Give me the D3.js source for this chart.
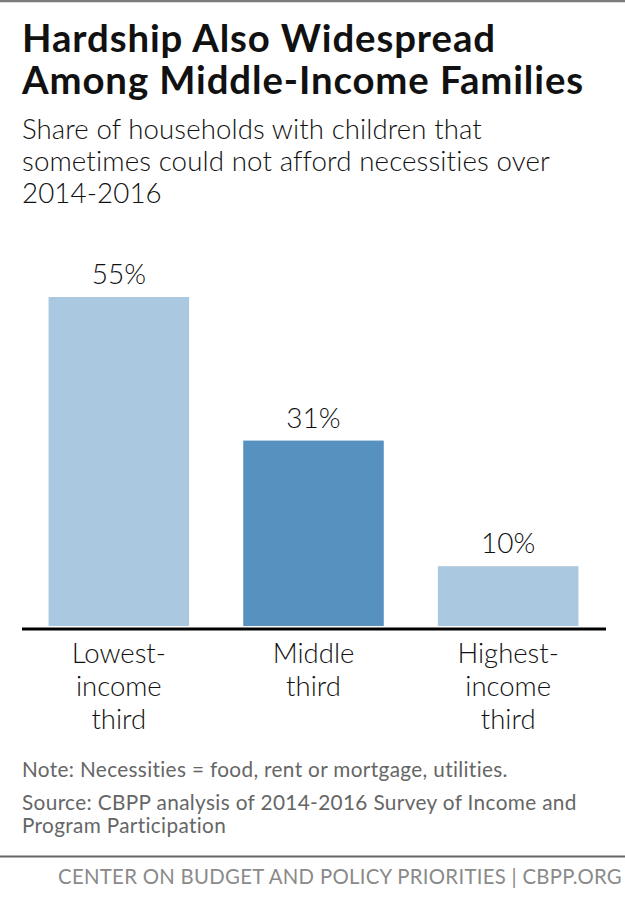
<!DOCTYPE html>
<html>
<head>
<meta charset="utf-8">
<script src="https://cdn.jsdelivr.net/npm/d3@7"></script>
<style>
  html, body { margin: 0; padding: 0; background: #fff; }
  svg { display: block; }
</style>
</head>
<body>
<svg id="chart" width="625" height="901"></svg>
<script>
// ---- data ----
const categories = ["Lowest-income third", "Middle third", "Highest-income third"];
const categoryLines = [["Lowest-", "income", "third"], ["Middle", "third"], ["Highest-", "income", "third"]];
const values = [55, 31, 10];
const valueLabels = ["55%", "31%", "10%"];
const highlight = [false, true, false];

const titleLines = ["Hardship Also Widespread", "Among Middle-Income Families"];
const subtitleLines = ["Share of households with children that", "sometimes could not afford necessities over", "2014-2016"];
const noteText = "Note: Necessities = food, rent or mortgage, utilities.";
const sourceLines = ["Source: CBPP analysis of 2014-2016 Survey of Income and", "Program Participation"];
const footerText = "CENTER ON BUDGET AND POLICY PRIORITIES | CBPP.ORG";

// ---- setup ----
const svg = d3.select("#chart");
const W = 625, H = 901;
const SANS = "Lato, 'Open Sans', sans-serif";

// fixed letter-spacing, then scale font-size so rendered width matches target
function fit(sel, target, ls) {
  const node = sel.node();
  sel.attr("letter-spacing", ls || 0);
  for (let k = 0; k < 4; k++) {
    const fs = parseFloat(sel.attr("font-size"));
    const w = node.getComputedTextLength();
    const n = sel.text().length;
    const spacing = (ls || 0) * n;
    const glyph = w - spacing;
    if (glyph > 0) sel.attr("font-size", (fs * (target - spacing) / glyph).toFixed(3));
  }
  return sel;
}

// top border
svg.append("line").attr("x1", 0).attr("x2", W).attr("y1", 1).attr("y2", 1)
  .attr("stroke", "#7a7a7a").attr("stroke-width", 2.5);

// title
const titleBase = [52, 94], titleW = [474, 562];
titleLines.forEach((t, i) => {
  const s = svg.append("text").attr("x", 22).attr("y", titleBase[i])
    .attr("font-family", SANS).attr("font-weight", 700).attr("font-size", 34)
    .attr("fill", "#111").text(t);
  fit(s, titleW[i], 0.9);
});

// subtitle
const subBase = [139, 171, 203], subW = [460, 528];
let subFs = 27;
subtitleLines.forEach((t, i) => {
  const s = svg.append("text").attr("x", 22).attr("y", subBase[i])
    .attr("font-family", SANS).attr("font-weight", 300).attr("font-size", 27)
    .attr("fill", "#111").text(t);
  if (i < 2) { fit(s, subW[i], 0.1); subFs = parseFloat(s.attr("font-size")); }
  else s.attr("font-size", subFs).attr("letter-spacing", 0.1);
});

// scales
const x = d3.scaleBand().domain(categories).range([21.5, 605.5]).paddingInner(0.278).paddingOuter(0.139);
const y = d3.scaleLinear().domain([0, 55]).range([626, 297]);

// bars
svg.append("g").selectAll("rect").data(categories).join("rect")
  .attr("x", d => x(d))
  .attr("width", x.bandwidth())
  .attr("y", (d, i) => y(values[i]))
  .attr("height", (d, i) => y(0) - y(values[i]))
  .attr("fill", (d, i) => highlight[i] ? "#5791bf" : "#aac8e0");

// value labels
svg.append("g").selectAll("text").data(categories).join("text")
  .attr("x", d => x(d) + x.bandwidth() / 2)
  .attr("y", (d, i) => y(values[i]) - 13)
  .attr("text-anchor", "middle")
  .attr("font-family", SANS).attr("font-weight", 300).attr("font-size", 28)
  .attr("fill", "#111")
  .text((d, i) => valueLabels[i]);

// axis baseline
const axis = d3.axisBottom(x).tickSize(0).tickFormat("");
const ag = svg.append("g").attr("transform", "translate(0,628.5)").call(axis);
ag.select(".domain").attr("stroke", "#000").attr("stroke-width", 3);

// category labels
categories.forEach((c, i) => {
  const t = svg.append("text").attr("text-anchor", "middle")
    .attr("font-family", SANS).attr("font-weight", 300).attr("font-size", 27.5).attr("fill", "#111");
  categoryLines[i].forEach((ln, j) => {
    t.append("tspan").attr("x", x(c) + x.bandwidth() / 2).attr("y", 663 + j * 33).text(ln);
  });
});

// note & source
const note = svg.append("text").attr("x", 22).attr("y", 777)
  .attr("font-family", SANS).attr("font-weight", 400).attr("font-size", 17)
  .attr("fill", "#666").text(noteText);
fit(note, 486, 0.35);
const srcBase = [810, 833], srcW = [555];
sourceLines.forEach((t, i) => {
  const s = svg.append("text").attr("x", 22).attr("y", srcBase[i])
    .attr("font-family", SANS).attr("font-weight", 400).attr("font-size", 17)
    .attr("fill", "#666").text(t);
  if (i === 0) fit(s, srcW[0], 0.35);
  else s.attr("font-size", note.attr("font-size")).attr("letter-spacing", 0.35);
});

// separator
svg.append("line").attr("x1", 0).attr("x2", W).attr("y1", 856.5).attr("y2", 856.5)
  .attr("stroke", "#666").attr("stroke-width", 2);

// footer
const foot = svg.append("text").attr("x", 622).attr("y", 884).attr("text-anchor", "end")
  .attr("font-family", SANS).attr("font-weight", 400).attr("font-size", 18)
  .attr("fill", "#8a8a8a").text(footerText);
fit(foot, 564, 0.3);
</script>
</body>
</html>
